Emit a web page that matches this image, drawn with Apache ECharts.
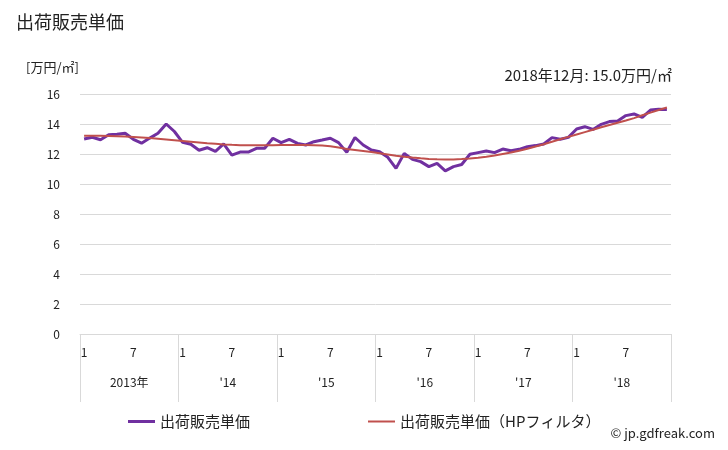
<!DOCTYPE html>
<html><head><meta charset="utf-8">
<script src="https://cdn.jsdelivr.net/npm/echarts@6/dist/echarts.min.js"></script>
<style>html,body{margin:0;padding:0;background:#fff}#c{width:728px;height:450px}</style>
</head><body><div id="c"></div>
<script>
const years = ['2013年', "'14", "'15", "'16", "'17", "'18"];
const months = [1,2,3,4,5,6,7,8,9,10,11,12];
const yTicks = [0,2,4,6,8,10,12,14,16];
const priceSeries = [
  13.0, 13.12, 12.95, 13.28, 13.32, 13.38, 12.98, 12.72, 13.06, 13.38, 14.0, 13.5,
  12.78, 12.65, 12.25, 12.42, 12.18, 12.67, 11.93, 12.13, 12.13, 12.38, 12.38, 13.05,
  12.76, 12.98, 12.71, 12.6, 12.82, 12.93, 13.05, 12.76, 12.11, 13.1, 12.6, 12.27,
  12.15, 11.78, 11.04, 12.04, 11.64, 11.49, 11.16, 11.38, 10.87, 11.16, 11.3, 11.98,
  12.09, 12.2, 12.09, 12.33, 12.22, 12.31, 12.49, 12.56, 12.67, 13.09, 12.98, 13.11,
  13.67, 13.82, 13.64, 13.98, 14.16, 14.2, 14.56, 14.67, 14.44, 14.93, 14.98, 14.97
];
const hpSeries = [
  13.22, 13.22, 13.21, 13.2, 13.19, 13.17, 13.14, 13.1, 13.06, 13.02, 12.97, 12.92,
  12.87, 12.82, 12.77, 12.72, 12.68, 12.64, 12.61, 12.59, 12.58, 12.58, 12.58, 12.59,
  12.6, 12.6, 12.6, 12.6, 12.59, 12.57, 12.52, 12.43, 12.33, 12.27, 12.2, 12.13,
  12.05, 11.97, 11.89, 11.82, 11.76, 11.71, 11.67, 11.65, 11.64, 11.64, 11.66, 11.7,
  11.75, 11.82, 11.9, 12.0, 12.1, 12.22, 12.35, 12.5, 12.65, 12.82, 12.98, 13.14,
  13.3, 13.46, 13.62, 13.78, 13.93, 14.08, 14.23, 14.39, 14.58, 14.76, 14.93, 15.1
];
const seriesNames = ['出荷販売単価', '出荷販売単価（HPフィルタ）'];

const cats = [];
years.forEach((y, yi) => months.forEach(m => cats.push(String(m))));
const font = '"Noto Sans CJK JP", "Noto Sans", sans-serif';
const last = priceSeries[priceSeries.length - 1];

const chart = echarts.init(document.getElementById('c'), null, {renderer: 'canvas'});
chart.setOption({
  animation: false,
  textStyle: {fontFamily: font},
  title: {text: '出荷販売単価', left: 11, top: 8,
    textStyle: {fontFamily: font, fontSize: 18, fontWeight: 'normal', color: '#222'}},
  graphic: [
    {type: 'text', left: 26, top: 61, style: {text: '[万円/㎡]', font: '13px ' + font, fill: '#222'}},
    {type: 'text', right: 56, top: 68, style: {text: '2018年12月: ' + last.toFixed(1) + '万円/㎡', font: '15px ' + font, fill: '#222'}},
    {type: 'text', right: 13, top: 427, style: {text: '© jp.gdfreak.com', font: '13px ' + font, fill: '#222'}}
  ],
  legend: [
    {data: [seriesNames[0]], left: 123, top: 409, itemWidth: 27, itemHeight: 3, icon: 'rect',
      textStyle: {fontSize: 15, color: '#222', fontFamily: font}},
    {data: [seriesNames[1]], left: 363, top: 409, itemWidth: 27, itemHeight: 2, icon: 'rect',
      textStyle: {fontSize: 15, color: '#222', fontFamily: font}}
  ],
  grid: {left: 80, right: 57, top: 94, bottom: 116},
  xAxis: [
    {type: 'category', data: cats, boundaryGap: true,
      axisLine: {show: true, lineStyle: {color: '#d9d9d9'}},
      axisTick: {show: false},
      axisLabel: {interval: (i) => i % 12 === 0 || i % 12 === 6, margin: 12, fontSize: 12, color: '#222', fontFamily: font}
    },
    {type: 'category', data: years, position: 'bottom', boundaryGap: true,
      axisLine: {show: false},
      axisTick: {show: true, length: 68, interval: 0, lineStyle: {color: '#d9d9d9'}},
      axisLabel: {margin: 42, fontSize: 12, color: '#222', fontFamily: font}
    }
  ],
  yAxis: {type: 'value', min: 0, max: 16, interval: 2,
    axisLine: {show: false}, axisTick: {show: false},
    axisLabel: {margin: 20, fontSize: 12, color: '#222', fontFamily: font},
    splitLine: {lineStyle: {color: '#d9d9d9'}}
  },
  series: [
    {name: seriesNames[0], type: 'line', data: priceSeries, xAxisIndex: 0, showSymbol: false, symbol: 'none',
      lineStyle: {width: 3, color: '#7030a0'}, itemStyle: {color: '#7030a0'}},
    {name: seriesNames[1], type: 'line', data: hpSeries, xAxisIndex: 0, showSymbol: false, symbol: 'none',
      lineStyle: {width: 2, color: '#c0504d'}, itemStyle: {color: '#c0504d'}}
  ]
});
</script></body></html>
